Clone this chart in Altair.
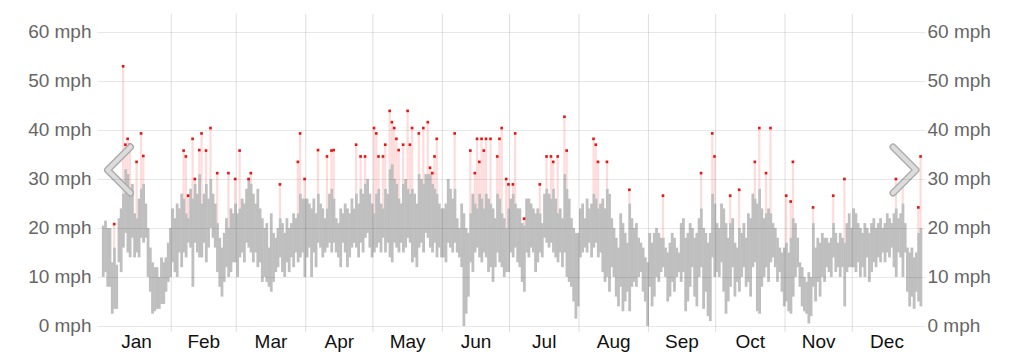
import altair as alt
import pandas as pd

FONT = "Liberation Sans"
MONTHS = ["Jan", "Feb", "Mar", "Apr", "May", "Jun", "Jul", "Aug", "Sep", "Oct", "Nov", "Dec"]
MONTH_DAYS = [31, 29, 31, 30, 31, 30, 31, 31, 30, 31, 30, 31]
Y_TICKS = [0, 10, 20, 30, 40, 50, 60]

jan_low = [10, 11, 8, 8, 2.5, 3.5, 3.5, 13, 11, 16, 19, 15, 14, 18, 14, 15, 14, 18, 17, 18, 10, 7, 2.5, 3, 3.5, 3.5, 4.5, 4.5, 7, 9, 10]
jan_high = [20.5, 21.5, 20, 20, 13, 16, 12.5, 22, 24, 27, 32, 31, 27, 29, 23, 22, 26, 28, 29, 25, 20, 16, 13, 12, 12, 10, 14, 13, 14, 17, 20]
feb_low = [13, 11, 10, 15, 12, 15, 14, 17, 16, 8, 17, 15, 14, 14, 17, 13, 16, 20, 18, 16, 11, 8, 6, 9, 12, 10, 11, 13, 13]
feb_high = [24, 22, 25, 24, 27, 26, 23, 22, 28, 26, 29, 27, 31, 25, 27, 29, 26, 30, 27, 25, 21, 18, 16, 19, 22, 20, 24, 23, 25]
mar_low = [10, 14, 15, 13, 17, 16, 15, 13, 15, 12, 13, 9, 10, 9, 8, 7, 9, 11, 12, 14, 11, 10, 13, 11, 14, 12, 15, 13, 14, 15, 10]
mar_high = [23, 24, 26, 25, 28, 30, 29, 27, 25, 28, 24, 22, 20, 21, 16, 23, 19, 18, 20, 22, 21, 19, 22, 20, 21, 23, 22, 23, 27, 26, 26]
apr_low = [14, 16, 10, 15, 12, 17, 16, 14, 15, 16, 17, 15, 17, 15, 14, 12, 17, 15, 12, 14, 16, 17, 16, 14, 17, 15, 18, 19, 16, 14]
apr_high = [26, 25, 24, 26, 23, 27, 25, 24, 22, 24, 27, 28, 26, 22, 21, 24, 23, 25, 24, 23, 26, 24, 27, 25, 28, 27, 29, 30, 27, 25]
may_low = [15, 16, 17, 15, 18, 15, 17, 14, 13, 17, 16, 15, 17, 15, 16, 18, 17, 13, 14, 12, 16, 17, 15, 19, 18, 16, 15, 17, 14, 16, 14]
may_high = [23, 27, 28, 25, 24, 28, 27, 32, 33, 30, 29, 26, 25, 29, 30, 28, 27, 28, 27, 25, 31, 30, 29, 31, 31, 31, 29, 28, 27, 25, 24]
jun_low = [14, 13, 17, 16, 15, 17, 15, 14, 12, 0, 2.5, 6, 13, 11, 15, 16, 14, 13, 15, 14, 11, 12, 9, 12, 15, 13, 12, 10, 11, 11]
jun_high = [24, 25, 30, 28, 26, 28, 22, 20, 25, 23, 20, 19, 23, 27, 25, 24, 27, 26, 24, 27, 26, 25, 24, 22, 27, 26, 23, 22, 20, 24]
jul_low = [15, 14, 16, 13, 12, 9, 7, 15, 14, 16, 15, 11, 13, 15, 14, 18, 17, 16, 17, 15, 14, 13, 15, 12, 15, 10, 9, 8, 5, 1.5, 4]
jul_high = [26, 27, 25, 24, 24, 21, 20.5, 26, 26, 25, 24, 23, 24, 23, 21, 27, 28, 27, 26, 28, 26, 23, 24, 22, 31, 28, 26, 22, 20, 19, 19]
aug_low = [14, 15, 16, 15, 17, 14, 16, 17, 14, 15, 11, 9, 10, 7, 12, 10, 6, 4, 8, 3, 5, 7, 3, 8, 9, 8, 10, 11, 7, 5, 0]
aug_high = [24, 25, 22, 26, 24, 25, 27, 26, 24, 25, 26, 24, 28, 27, 22, 20, 18, 16, 23, 21, 19, 17, 25, 22, 20, 21, 18, 17, 16, 14, 13]
sep_low = [8, 4, 6, 10, 9, 11, 12, 10, 5, 6, 9, 7, 10, 11, 9, 11, 3, 5, 8, 12, 6, 4, 10, 12, 3.5, 7, 2, 1, 14, 10]
sep_high = [19, 17, 19, 20, 19, 18, 18, 16, 15, 17, 19, 18, 16, 15, 21, 22, 18, 19, 21, 20, 18, 19, 22, 24, 20, 19, 17, 19, 27, 25]
oct_low = [11, 10, 13, 7, 2.5, 5, 8, 12, 6, 9, 7, 10, 12, 8, 9, 6, 12, 13, 3, 2.5, 8, 10, 12, 9, 13, 14, 12, 9, 11, 7, 4]
oct_high = [21, 20, 25, 24, 21, 18, 21, 22, 17, 16, 20, 19, 21, 18, 23, 22, 27, 26, 25, 28, 24, 22, 23, 24, 23, 21, 20, 18, 16, 15, 16]
nov_low = [5, 3, 2.5, 6, 10, 12, 8, 4, 3, 2.5, 0.5, 2, 8, 5, 9, 6, 10, 9, 12, 11, 10, 14, 11, 12, 10, 12, 4, 11, 12, 12]
nov_high = [17, 15, 18, 22, 21, 18, 13, 12, 10, 9, 11, 10, 21, 16, 18, 17, 19, 18, 18, 17, 18, 21, 19, 17, 19, 18, 17, 21, 23, 20]
dec_low = [12, 11, 13, 10, 12, 10, 14, 9, 11, 13, 12, 14, 13, 15, 13, 15, 14, 16, 12, 10, 15, 14, 10, 15, 7, 4, 6, 3.5, 7, 5, 4]
dec_high = [24, 23, 21, 20, 19, 21, 20, 19, 21, 22, 20, 21, 22, 20, 21, 23, 22, 21, 23, 24, 22, 23, 25, 21, 16, 15, 16, 14, 15, 19, 20]

# day of year (0-based) and gust speed
gust_day = [5, 9, 10, 11, 12, 15, 17, 18,
            36, 37, 38, 40, 41, 43, 44, 46, 48, 51, 56, 59,
            61, 65, 66, 79, 87, 88, 90,
            96, 100, 102, 103, 113, 115, 117,
            121, 122, 123, 125, 126, 128, 129, 130, 131, 132, 134, 136, 137, 138, 141, 143, 145, 146, 147, 148, 149,
            157, 164, 166, 167, 168, 169, 170, 171, 173, 176, 177, 178, 180, 181,
            183, 184, 188, 195, 198, 200, 201, 203, 206, 207,
            219, 220, 221, 225, 235,
            250, 267, 272, 273,
            280, 284, 291, 293, 296, 298,
            305, 307, 308, 317, 326, 331,
            354, 357, 364, 365]
gust_mph = [20.8, 53, 37, 38.2, 37, 33.5, 39.3, 34.7,
            35.8, 34.6, 26.6, 38.2, 30, 35.9, 39.3, 35.8, 40.4, 31.2, 31.2, 30,
            35.8, 30, 31.2, 28.9, 33.5, 39.3, 30,
            35.9, 34.6, 35.8, 35.9, 37, 34.6, 34.6,
            40.4, 39.3, 34.6, 34.6, 37, 43.9, 41.6, 40.4, 38.2, 35.9, 37, 43.9, 37, 40.4, 39.3, 40.4, 41.6, 32.3, 31.2, 34.6, 38.2,
            39.3, 35.8, 31.2, 38.2, 33.5, 38.2, 35.8, 38.2, 38.2, 34.6, 38.2, 40.4, 30, 28.9,
            28.9, 39.3, 21.9, 28.9, 34.6, 34.6, 33.5, 34.6, 42.7, 35.8,
            38.2, 37, 33.5, 33.5, 27.8,
            26.6, 31.2, 39.3, 34.6,
            26.6, 27.8, 33.5, 40.4, 31.2, 40.4,
            26.6, 25.4, 33.5, 24.2, 26.6, 30,
            30, 28.9, 24.2, 34.6]

low = (jan_low + feb_low + mar_low + apr_low + may_low + jun_low +
       jul_low + aug_low + sep_low + oct_low + nov_low + dec_low)
high = (jan_high + feb_high + mar_high + apr_high + may_high + jun_high +
        jul_high + aug_high + sep_high + oct_high + nov_high + dec_high)

days = list(range(len(low)))
# bars overlap slightly so no hairline seams appear between adjacent days
df = pd.DataFrame({"day": days, "day_end": [d + 1.25 for d in days], "low": low, "high": high})
gdf = pd.DataFrame({
    "day": gust_day,
    "day_end": [d + 1 for d in gust_day],
    "mid": [d + 0.5 for d in gust_day],
    "gust": gust_mph,
    "high": [high[d] for d in gust_day],
})

starts = []
acc = 0
for n in MONTH_DAYS:
    starts.append(acc)
    acc += n
mdf = pd.DataFrame({
    "month": MONTHS,
    "start": starts,
    "mid": [s + n / 2 for s, n in zip(starts, MONTH_DAYS)],
})
bdf = mdf[mdf["start"] > 0]

PW, PH = 828, 318
xs = alt.Scale(domain=[-2.17, 367.47], nice=False, zero=False)
ys = alt.Scale(domain=[-1.2245, 63.673], nice=False, zero=False)

pink = alt.Chart(gdf).mark_rect(color="#ffdcdc").encode(
    x=alt.X("day:Q", scale=xs, axis=None),
    x2="day_end:Q",
    y=alt.Y("high:Q", scale=ys, axis=None),
    y2="gust:Q",
)

gray = alt.Chart(df).mark_rect(color="#bfbfbf").encode(
    x=alt.X("day:Q", scale=xs, axis=None),
    x2="day_end:Q",
    y=alt.Y("low:Q", scale=ys, axis=alt.Axis(
        orient="left", values=Y_TICKS, labelExpr="datum.value + ' mph'",
        grid=True, gridColor="#000000", gridOpacity=0.09, gridWidth=1,
        ticks=False, domain=False, labelFont=FONT, labelFontSize=19,
        labelColor="#666666", labelPadding=6, title=None, zindex=1)),
    y2="high:Q",
)

dots = alt.Chart(gdf).mark_square(color="#e8140f", size=7, opacity=1).encode(
    x=alt.X("mid:Q", scale=xs, axis=None),
    y=alt.Y("gust:Q", scale=ys, axis=alt.Axis(
        orient="right", values=Y_TICKS, labelExpr="datum.value + ' mph'",
        grid=False, ticks=False, domain=False, labelFont=FONT, labelFontSize=19,
        labelColor="#666666", labelPadding=2, title=None)),
)

rules = alt.Chart(bdf).mark_rule(color="#000000", opacity=0.13, strokeWidth=1).encode(
    x=alt.X("start:Q", scale=xs, axis=None),
    y=alt.value(0),
    y2=alt.value(PH),
)

labels = alt.Chart(mdf).mark_text(font=FONT, fontSize=19, color="#111111",
                                   baseline="alphabetic", align="center").encode(
    x=alt.X("mid:Q", scale=xs, axis=None),
    y=alt.value(334),
    text="month:N",
)

one = pd.DataFrame({"k": [0]})
LEFT_PATH = "M0.5,-1L-0.5,0L0.5,1"
RIGHT_PATH = "M-0.5,-1L0.5,0L-0.5,1"


def chevron(path, cx, cy):
    outer = alt.Chart(one).mark_point(shape=path, size=2116, filled=False, stroke="#aaaaaa",
                                      strokeWidth=7, strokeCap="round", strokeJoin="round",
                                      opacity=1).encode(x=alt.value(cx), y=alt.value(cy))
    inner = alt.Chart(one).mark_point(shape=path, size=2116, filled=False, stroke="#dcdcdc",
                                      strokeWidth=4.5, strokeCap="round", strokeJoin="round",
                                      opacity=1).encode(x=alt.value(cx), y=alt.value(cy))
    return outer + inner


chart = alt.layer(
    pink, gray, rules, dots, labels,
    chevron(LEFT_PATH, 22, 156), chevron(RIGHT_PATH, 807.5, 156),
).resolve_axis(y="independent").properties(
    width=PW, height=PH,
    autosize=alt.AutoSizeParams(type="none"),
    padding={"left": 97, "top": 14, "right": 99, "bottom": 24},
    background="white",
).configure_view(stroke=None)

chart.save("out.html", embed_options={"renderer": "svg", "actions": False})
